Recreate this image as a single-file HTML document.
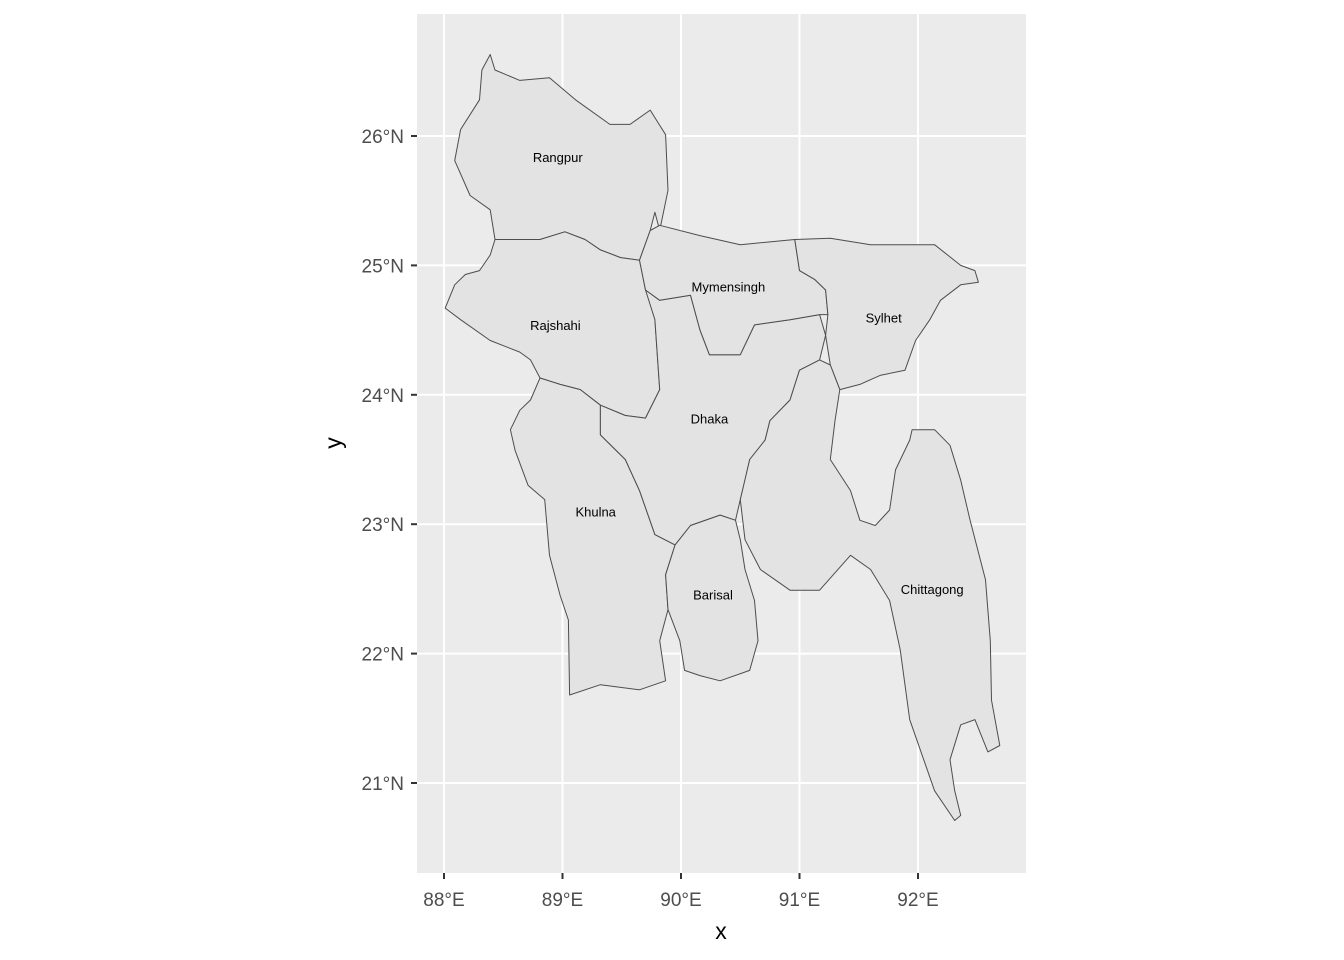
<!DOCTYPE html>
<html><head><meta charset="utf-8"><style>
html,body{margin:0;padding:0;background:#fff;}
svg{display:block;font-family:"Liberation Sans",Arial,sans-serif;}
</style></head><body>
<svg id="chart" width="1344" height="960" viewBox="0 0 1344 960" xmlns="http://www.w3.org/2000/svg"></svg>
<script>
const xTicks = [88, 89, 90, 91, 92];
const yTicks = [21, 22, 23, 24, 25, 26];
const xTickLabels = ["88°E", "89°E", "90°E", "91°E", "92°E"];
const yTickLabels = ["21°N", "22°N", "23°N", "24°N", "25°N", "26°N"];
const divisionNames = ["Rangpur","Rajshahi","Khulna","Dhaka","Mymensingh","Sylhet","Barisal","Chittagong"];
const labelLon = [88.96, 88.94, 89.28, 90.24, 90.40, 91.71, 90.27, 92.12];
const labelLat = [25.83, 24.53, 23.09, 23.81, 24.83, 24.59, 22.45, 22.49];
const rangpur = [[88.39,26.63],[88.43,26.51],[88.64,26.43],[88.89,26.45],[89.11,26.28],[89.40,26.09],[89.57,26.09],[89.74,26.20],[89.87,26.01],[89.89,25.58],[89.82,25.27],[89.78,25.41],[89.74,25.27],[89.65,25.04],[89.49,25.06],[89.32,25.12],[89.19,25.20],[89.02,25.26],[88.81,25.20],[88.43,25.20],[88.39,25.43],[88.22,25.54],[88.09,25.81],[88.14,26.05],[88.30,26.28],[88.32,26.51]];
const rajshahi = [[88.43,25.20],[88.81,25.20],[89.02,25.26],[89.19,25.20],[89.32,25.12],[89.49,25.06],[89.65,25.04],[89.70,24.81],[89.82,24.73],[89.78,24.58],[89.82,24.04],[89.70,23.82],[89.53,23.84],[89.32,23.92],[89.15,24.04],[88.98,24.08],[88.81,24.13],[88.73,24.27],[88.64,24.33],[88.39,24.42],[88.14,24.58],[88.01,24.67],[88.09,24.85],[88.18,24.93],[88.30,24.96],[88.39,25.08]];
const khulna = [[88.81,24.13],[88.98,24.08],[89.15,24.04],[89.32,23.92],[89.32,23.69],[89.53,23.50],[89.65,23.26],[89.78,22.92],[89.95,22.84],[89.87,22.61],[89.89,22.34],[89.82,22.10],[89.87,21.79],[89.65,21.72],[89.32,21.76],[89.06,21.68],[89.05,22.26],[88.98,22.45],[88.89,22.76],[88.85,23.19],[88.71,23.30],[88.60,23.57],[88.56,23.73],[88.64,23.88],[88.73,23.96]];
const dhaka = [[89.70,24.81],[89.82,24.73],[90.08,24.77],[90.16,24.50],[90.24,24.31],[90.50,24.31],[90.62,24.54],[90.92,24.58],[91.17,24.62],[91.22,24.46],[91.17,24.27],[91.00,24.19],[90.92,23.96],[90.75,23.80],[90.71,23.65],[90.58,23.50],[90.54,23.34],[90.50,23.19],[90.46,23.03],[90.33,23.07],[90.08,22.99],[89.95,22.84],[89.78,22.92],[89.65,23.26],[89.53,23.50],[89.32,23.69],[89.32,23.92],[89.53,23.84],[89.70,23.82],[89.82,24.04],[89.78,24.58]];
const mymensingh = [[89.65,25.04],[89.74,25.27],[89.82,25.31],[90.16,25.23],[90.50,25.16],[90.96,25.20],[91.00,24.96],[91.13,24.89],[91.22,24.81],[91.24,24.62],[91.17,24.62],[90.92,24.58],[90.62,24.54],[90.50,24.31],[90.24,24.31],[90.16,24.50],[90.08,24.77],[89.82,24.73],[89.70,24.81]];
const sylhet = [[90.96,25.20],[91.26,25.21],[91.60,25.16],[92.14,25.16],[92.36,25.00],[92.48,24.96],[92.51,24.87],[92.36,24.85],[92.19,24.73],[92.10,24.58],[91.98,24.42],[91.89,24.19],[91.68,24.15],[91.51,24.08],[91.34,24.04],[91.26,24.23],[91.22,24.46],[91.24,24.62],[91.22,24.81],[91.13,24.89],[91.00,24.96]];
const barisal = [[89.95,22.84],[90.08,22.99],[90.33,23.07],[90.46,23.03],[90.50,22.88],[90.54,22.65],[90.62,22.41],[90.65,22.10],[90.58,21.87],[90.33,21.79],[90.16,21.83],[90.03,21.87],[89.99,22.10],[89.89,22.34],[89.87,22.61]];
const chittagong = [[91.26,24.23],[91.34,24.04],[91.30,23.80],[91.26,23.50],[91.43,23.26],[91.51,23.03],[91.64,22.99],[91.76,23.11],[91.81,23.42],[91.93,23.65],[91.95,23.73],[92.14,23.73],[92.27,23.61],[92.36,23.34],[92.44,23.03],[92.57,22.57],[92.61,22.10],[92.62,21.64],[92.69,21.29],[92.59,21.24],[92.48,21.49],[92.36,21.45],[92.27,21.18],[92.31,20.94],[92.36,20.75],[92.31,20.71],[92.14,20.94],[91.93,21.49],[91.85,22.03],[91.76,22.41],[91.60,22.65],[91.43,22.76],[91.17,22.49],[90.92,22.49],[90.67,22.65],[90.54,22.88],[90.50,23.19],[90.58,23.50],[90.71,23.65],[90.75,23.80],[90.92,23.96],[91.00,24.19],[91.17,24.27]];
const divisionShapes = [rangpur, rajshahi, khulna, dhaka, mymensingh, sylhet, barisal, chittagong];

const NS = "http://www.w3.org/2000/svg";
const svg = document.getElementById("chart");
const panel = {left:417, top:14, right:1026, bottom:873};
function xScale(lon){ return 444 + (lon - 88) * 118.5; }
function yScale(lat){ return 136 + (26 - lat) * 129.4; }
function mk(tag, attrs){ const e=document.createElementNS(NS,tag); for(const k in attrs) e.setAttribute(k, attrs[k]); svg.appendChild(e); return e; }

const bg = mk("rect",{x:panel.left,y:panel.top,width:panel.right-panel.left,height:panel.bottom-panel.top,fill:"#ebebeb"});



xTicks.forEach((v,i)=>{
  const x = xScale(v);
  const g = mk("line",{x1:x,x2:x,y1:panel.top,y2:panel.bottom,stroke:"#fff","stroke-width":2});
  
  
  const t = mk("line",{x1:x,x2:x,y1:panel.bottom,y2:panel.bottom+6,stroke:"#333","stroke-width":2});
  
  
  const l = mk("text",{x:x,y:906,"text-anchor":"middle","font-size":19,fill:"#4d4d4d"});
  l.textContent = xTickLabels[i];
  
  
});
yTicks.forEach((v,i)=>{
  const y = yScale(v);
  const g = mk("line",{x1:panel.left,x2:panel.right,y1:y,y2:y,stroke:"#fff","stroke-width":2});
  
  
  const t = mk("line",{x1:panel.left-6,x2:panel.left,y1:y,y2:y,stroke:"#333","stroke-width":2});
  
  
  const l = mk("text",{x:404,y:y+7,"text-anchor":"end","font-size":19,fill:"#4d4d4d"});
  l.textContent = yTickLabels[i];
  
  
});

divisionShapes.forEach((pts,i)=>{
  const d = "M" + pts.map(p=>xScale(p[0]).toFixed(1)+","+yScale(p[1]).toFixed(1)).join("L") + "Z";
  const p = mk("path",{d:d,fill:"#e3e3e3",stroke:"#4d4d4d","stroke-width":1,"stroke-linejoin":"round"});
  
  
});
divisionNames.forEach((n,i)=>{
  const t = mk("text",{x:xScale(labelLon[i]),y:yScale(labelLat[i])+4,"text-anchor":"middle","font-size":13,fill:"#000"});
  t.textContent = n;
  
  
});

const xt = mk("text",{x:721,y:939,"text-anchor":"middle","font-size":23,fill:"#000"});
xt.textContent = "x";


const yt = mk("text",{x:0,y:0,"text-anchor":"middle","font-size":23,fill:"#000",transform:"translate(341,443) rotate(-90)"});
yt.textContent = "y";


</script>
</body></html>
